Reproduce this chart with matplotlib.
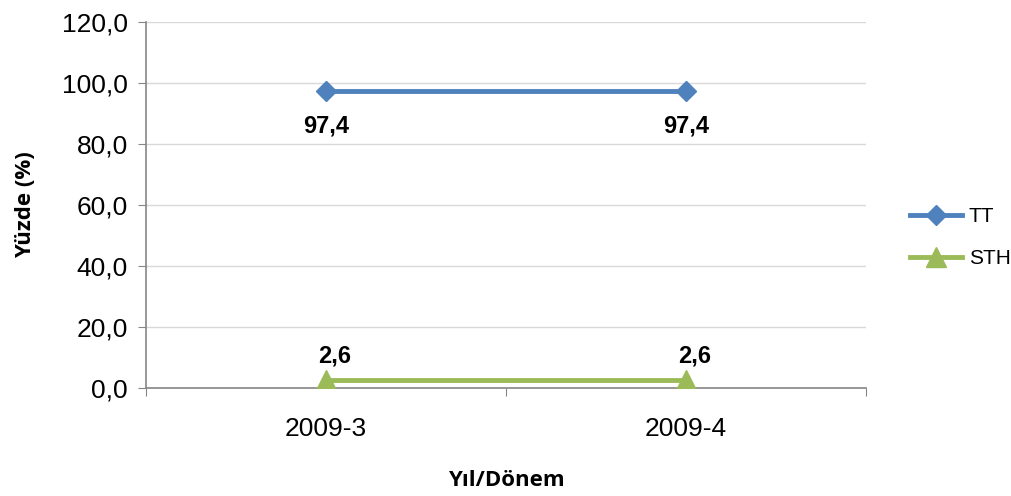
import matplotlib
matplotlib.use("Agg")
import matplotlib.pyplot as plt

# Data
categories = ["2009-3", "2009-4"]
tt_values = [97.4, 97.4]
sth_values = [2.6, 2.6]
y_ticks = [0, 20, 40, 60, 80, 100, 120]

BLUE = "#4F81BD"
GREEN = "#9BBB59"
AXIS = "#868686"
GRID = "#D9D9D9"

plt.rcParams['font.family'] = ['Liberation Sans', 'DejaVu Sans']

fig = plt.figure(figsize=(10.11, 4.96), dpi=100)
ax = fig.add_axes([146 / 1011, 1 - 388 / 496, 720 / 1011, 366 / 496])

x = list(range(len(categories)))
ax.plot(x, tt_values, color=BLUE, lw=3.5, marker="D", ms=10, label="TT", zorder=3)
ax.plot(x, sth_values, color=GREEN, lw=3.5, marker="^", ms=14, label="STH", zorder=3)

# Data labels
for xi, v in zip(x, tt_values):
    ax.annotate(f"{v:.1f}".replace(".", ","), (xi, v), xytext=(0, -25), textcoords="offset points",
                ha="center", va="center", fontsize=17, fontweight="bold")
for xi, v in zip(x, sth_values):
    ax.annotate(f"{v:.1f}".replace(".", ","), (xi, v), xytext=(6, 17), textcoords="offset points",
                ha="center", va="center", fontsize=17, fontweight="bold")

ax.set_xlim(-0.5, len(categories) - 0.5)
ax.set_ylim(0, 120)
ax.set_yticks(y_ticks)
ax.set_yticklabels([f"{t:.1f}".replace(".", ",") for t in y_ticks])
ax.set_xticks([i - 0.5 for i in range(len(categories) + 1)])
ax.set_xticklabels([])
ax.set_xticks(x, minor=True)
ax.set_xticklabels(categories, minor=True)
ax.tick_params(axis="x", which="minor", length=0, pad=21, labelsize=19)
ax.tick_params(axis="x", which="major", length=6, color=AXIS, direction="out")
ax.tick_params(axis="y", length=6, color=AXIS, labelsize=19, pad=7)

ax.grid(axis="y", color=GRID, lw=1)
ax.set_axisbelow(True)
for side in ["top", "right"]:
    ax.spines[side].set_visible(False)
ax.spines["left"].set_color(AXIS)
ax.spines["bottom"].set_color(AXIS)
ax.spines["left"].set_linewidth(1.2)
ax.spines["bottom"].set_linewidth(1.2)

ax.set_ylabel("Yüzde (%)", fontsize=16, fontweight="bold", family=["Open Sans", "DejaVu Sans"], labelpad=19)
ax.set_xlabel("Yıl/Dönem", fontsize=16, fontweight="bold", family=["Open Sans", "DejaVu Sans"], labelpad=21)

leg = ax.legend(loc="center left", bbox_to_anchor=(1.05, 0.41), frameon=False, fontsize=15,
                handlelength=2.5, labelspacing=1.1, handletextpad=0.3, borderaxespad=0)

fig.savefig("out.png", dpi=100)
